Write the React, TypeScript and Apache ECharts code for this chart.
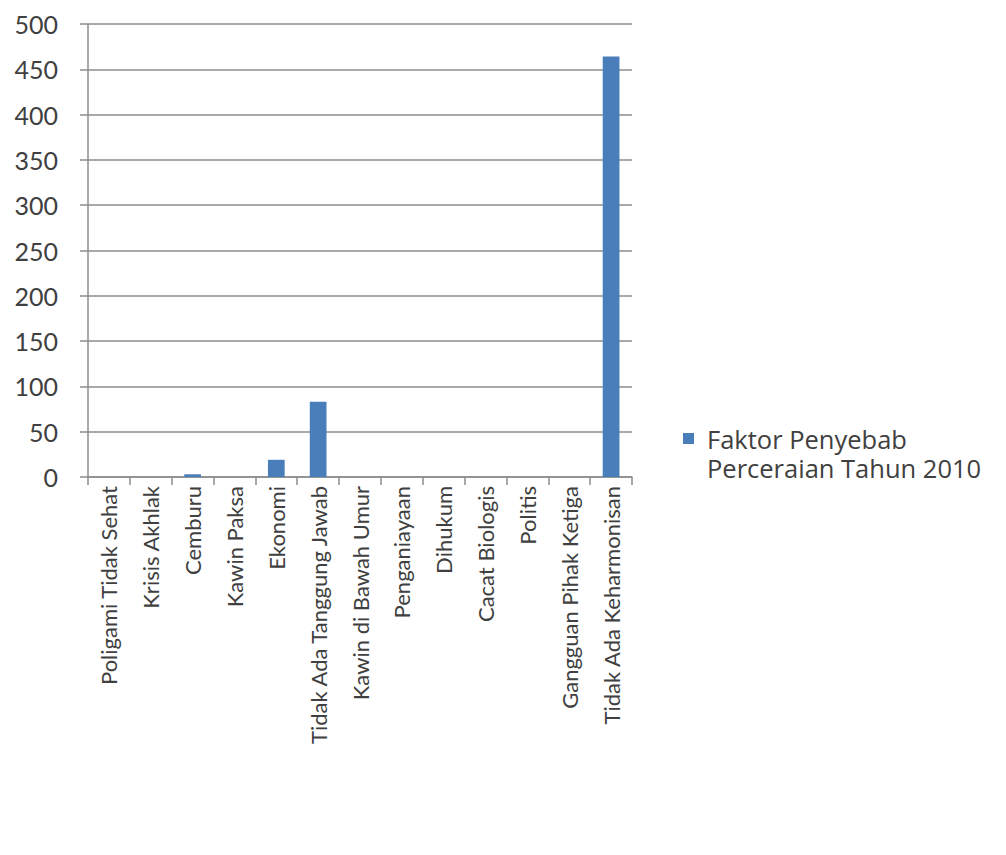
import React, { useEffect, useRef } from "react";
import * as echarts from "echarts";

const categories = [
  "Poligami Tidak Sehat",
  "Krisis Akhlak",
  "Cemburu",
  "Kawin Paksa",
  "Ekonomi",
  "Tidak Ada Tanggung Jawab",
  "Kawin di Bawah Umur",
  "Penganiayaan",
  "Dihukum",
  "Cacat Biologis",
  "Politis",
  "Gangguan Pihak Ketiga",
  "Tidak Ada Keharmonisan",
];
const values = [0, 0, 3, 0, 19, 83, 0, 0, 0, 0, 0, 0, 464];
const legendLines = ["Faktor Penyebab", "Perceraian Tahun 2010"];
const seriesName = legendLines.join(" ");

const FONT = "Lato, 'Liberation Sans', sans-serif";
const LEGEND_FONT = "'Open Sans', Lato, sans-serif";
const TEXT = "#404040";
const LINE = "#8c8c8c";

export default function App() {
  const ref = useRef<HTMLDivElement>(null);
  useEffect(() => {
    if (!ref.current) return;
    const chart = echarts.init(ref.current, undefined, { renderer: "svg" });
    chart.setOption({
      animation: false,
      textStyle: { fontFamily: FONT },
      grid: { left: 88, right: 374, top: 24, bottom: 378, containLabel: false },
      legend: {
        left: 683,
        top: 395,
        padding: 0,
        itemWidth: 11,
        itemHeight: 11,
        icon: "rect",
        data: [seriesName],
        formatter: () =>
          "{t| }\n" + legendLines.map((l) => "{t|" + l + "}").join("\n"),
        textStyle: {
          color: TEXT,
          fontSize: 25.5,
          fontFamily: LEGEND_FONT,
          lineHeight: 29,
          rich: {
            t: {
              color: TEXT,
              fontSize: 25.5,
              fontFamily: LEGEND_FONT,
              lineHeight: 29,
              padding: [0, 0, 0, 8],
            },
          },
        },
      },
      xAxis: {
        type: "category",
        data: categories,
        axisLine: { lineStyle: { color: LINE, width: 1.5 } },
        axisTick: { show: true, length: 8, alignWithLabel: false, lineStyle: { color: LINE, width: 1.5 } },
        axisLabel: {
          rotate: 90,
          interval: 0,
          margin: 9,
          color: TEXT,
          fontSize: 22,
          fontFamily: FONT,
        },
      },
      yAxis: {
        type: "value",
        min: 0,
        max: 500,
        interval: 50,
        axisLine: { show: true, lineStyle: { color: LINE, width: 1.5 } },
        axisTick: { show: true, length: 8, inside: false, lineStyle: { color: LINE, width: 1.5 } },
        axisLabel: { margin: 30, color: TEXT, fontSize: 25, fontFamily: FONT },
        splitLine: { show: true, lineStyle: { color: LINE, width: 1.5 } },
      },
      series: [
        {
          name: seriesName,
          type: "bar",
          data: values,
          barWidth: "40%",
          itemStyle: { color: "#4a7ebb" },
        },
      ],
    });
    return () => chart.dispose();
  }, []);
  return <div ref={ref} style={{ width: 1006, height: 855, position: "absolute", left: 0, top: 0, background: "#fff" }} />;
}
